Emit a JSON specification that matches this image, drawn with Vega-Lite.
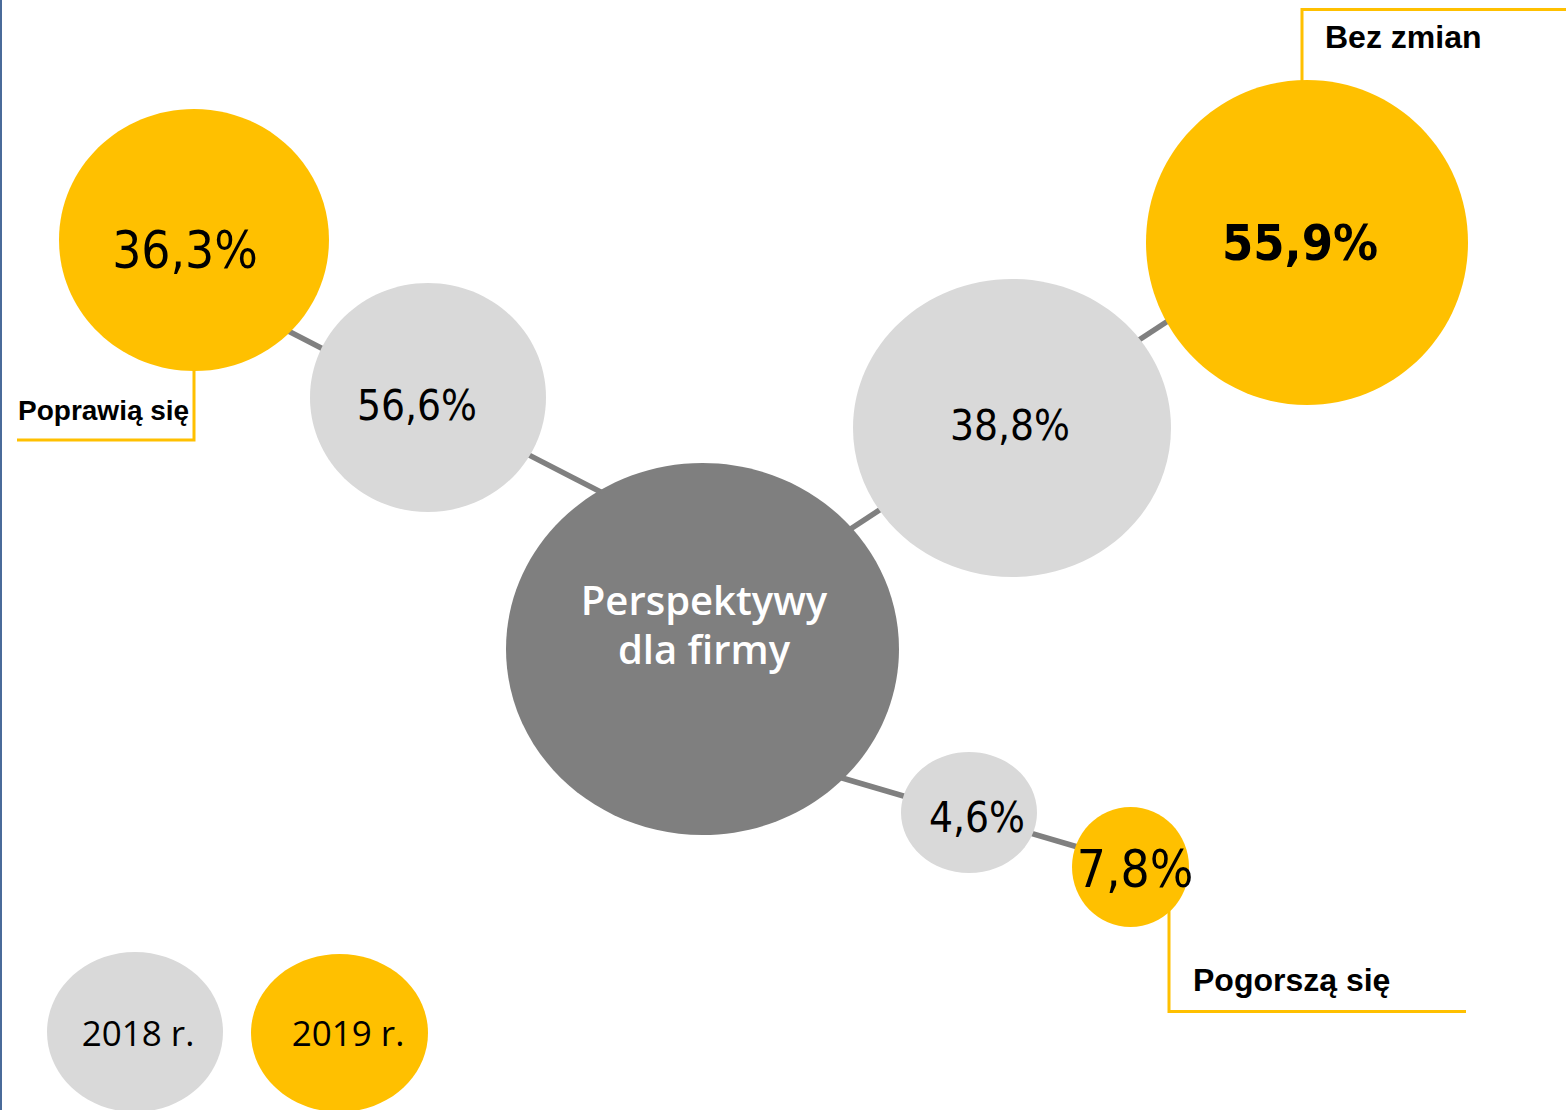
{
  "$schema": "https://vega.github.io/schema/vega-lite/v6.json",
  "width": 1566,
  "height": 1110,
  "padding": 0,
  "autosize": {"type": "none"},
  "background": "#ffffff",
  "config": {"view": {"stroke": null}},
  "datasets": {
    "bubbles": [
      {"id": "up2019", "year": "2019", "x": 194, "y": 240},
      {"id": "up2018", "year": "2018", "x": 428, "y": 397.5},
      {"id": "center", "year": "center", "x": 702.5, "y": 649},
      {"id": "same2018", "year": "2018", "x": 1012, "y": 428},
      {"id": "same2019", "year": "2019", "x": 1307, "y": 242.5},
      {"id": "down2018", "year": "2018", "x": 969, "y": 812.5},
      {"id": "down2019", "year": "2019", "x": 1130.5, "y": 867},
      {"id": "key2018", "year": "2018", "x": 135, "y": 1032},
      {"id": "key2019", "year": "2019", "x": 339.5, "y": 1033}
    ],
    "links": [
      {"link": "up", "seq": 1, "x": 250, "y": 311.4},
      {"link": "up", "seq": 2, "x": 640, "y": 512.2},
      {"link": "same", "seq": 1, "x": 820, "y": 549},
      {"link": "same", "seq": 2, "x": 1200, "y": 300},
      {"link": "down", "seq": 1, "x": 820, "y": 771.5},
      {"link": "down", "seq": 2, "x": 1110, "y": 856.5}
    ],
    "callouts": [
      {"c": "same", "seq": 1, "x": 1302, "y": 100},
      {"c": "same", "seq": 2, "x": 1302, "y": 9.5},
      {"c": "same", "seq": 3, "x": 1566, "y": 9.5},
      {"c": "up", "seq": 1, "x": 194, "y": 350},
      {"c": "up", "seq": 2, "x": 194, "y": 440},
      {"c": "up", "seq": 3, "x": 17, "y": 440},
      {"c": "down", "seq": 1, "x": 1169, "y": 890},
      {"c": "down", "seq": 2, "x": 1169, "y": 1011.5},
      {"c": "down", "seq": 3, "x": 1466, "y": 1011.5}
    ],
    "labels": [
      {"id": "up2019", "text": "36,3%", "x": 185, "y": 268},
      {"id": "up2018", "text": "56,6%", "x": 417, "y": 420},
      {"id": "same2018", "text": "38,8%", "x": 1010, "y": 440},
      {"id": "same2019", "text": "55,9%", "x": 1300, "y": 260},
      {"id": "down2018", "text": "4,6%", "x": 977, "y": 832},
      {"id": "down2019", "text": "7,8%", "x": 1135, "y": 887},
      {"id": "center", "text": "Perspektywy\ndla firmy", "x": 704, "y": 615},
      {"id": "key2018", "text": "2018 r.", "x": 138, "y": 1046},
      {"id": "key2019", "text": "2019 r.", "x": 348, "y": 1046},
      {"id": "callSame", "text": "Bez zmian", "x": 1325, "y": 48},
      {"id": "callDown", "text": "Pogorszą się", "x": 1193, "y": 991},
      {"id": "callUp", "text": "Poprawią się", "x": 18, "y": 420}
    ],
    "edge": [{"x": 1, "y": 0, "y2": 1110}]
  },
  "layer": [
    {
      "data": {"name": "links"},
      "mark": {"type": "line", "color": "#808080", "strokeWidth": 5.5, "strokeCap": "butt"},
      "encoding": {
        "x": {"field": "x", "type": "quantitative", "scale": {"domain": [0, 1566], "nice": false, "zero": false}, "axis": null},
        "y": {"field": "y", "type": "quantitative", "scale": {"domain": [0, 1110], "nice": false, "zero": false, "reverse": true}, "axis": null},
        "detail": {"field": "link"},
        "order": {"field": "seq", "type": "quantitative"}
      }
    },
    {
      "data": {"name": "callouts"},
      "mark": {"type": "line", "color": "#FFC000", "strokeWidth": 3, "strokeCap": "butt", "strokeJoin": "miter"},
      "encoding": {
        "x": {"field": "x", "type": "quantitative"},
        "y": {"field": "y", "type": "quantitative"},
        "detail": {"field": "c"},
        "order": {"field": "seq", "type": "quantitative"}
      }
    },
    {
      "data": {"name": "bubbles"},
      "mark": {"type": "point", "filled": true, "opacity": 1, "strokeWidth": 0},
      "encoding": {
        "x": {"field": "x", "type": "quantitative"},
        "y": {"field": "y", "type": "quantitative"},
        "size": {"value": 4},
        "color": {
          "field": "year", "type": "nominal", "legend": null,
          "scale": {"domain": ["2018", "2019", "center"], "range": ["#D9D9D9", "#FFC000", "#7F7F7F"]}
        },
        "shape": {
          "field": "id", "type": "nominal", "legend": null,
          "scale": {
            "domain": ["up2019", "up2018", "center", "same2018", "same2019", "down2018", "down2019", "key2018", "key2019"],
            "range": [
              "M-135,0A135,131,0,1,1,135,0A135,131,0,1,1,-135,0Z",
              "M-118,0A118,114.5,0,1,1,118,0A118,114.5,0,1,1,-118,0Z",
              "M-196.5,0A196.5,186,0,1,1,196.5,0A196.5,186,0,1,1,-196.5,0Z",
              "M-159,0A159,149,0,1,1,159,0A159,149,0,1,1,-159,0Z",
              "M-161,0A161,162.5,0,1,1,161,0A161,162.5,0,1,1,-161,0Z",
              "M-68,0A68,60.5,0,1,1,68,0A68,60.5,0,1,1,-68,0Z",
              "M-58.5,0A58.5,60,0,1,1,58.5,0A58.5,60,0,1,1,-58.5,0Z",
              "M-88,0A88,80,0,1,1,88,0A88,80,0,1,1,-88,0Z",
              "M-88.5,0A88.5,79,0,1,1,88.5,0A88.5,79,0,1,1,-88.5,0Z"
            ]
          }
        }
      }
    },
    {
      "data": {"name": "labels"},
      "transform": [{"filter": {"field": "id", "oneOf": ["up2019", "down2019"]}}],
      "mark": {"type": "text", "align": "center", "baseline": "alphabetic", "font": "DejaVu Sans Condensed, DejaVu Sans", "fontSize": 51, "color": "#000000"},
      "encoding": {
        "x": {"field": "x", "type": "quantitative"},
        "y": {"field": "y", "type": "quantitative"},
        "text": {"field": "text"}
      }
    },
    {
      "data": {"name": "labels"},
      "transform": [{"filter": {"field": "id", "oneOf": ["up2018", "same2018", "down2018"]}}],
      "mark": {"type": "text", "align": "center", "baseline": "alphabetic", "font": "DejaVu Sans Condensed, DejaVu Sans", "fontSize": 42, "color": "#000000"},
      "encoding": {
        "x": {"field": "x", "type": "quantitative"},
        "y": {"field": "y", "type": "quantitative"},
        "text": {"field": "text"}
      }
    },
    {
      "data": {"name": "labels"},
      "transform": [{"filter": {"field": "id", "equal": "same2019"}}],
      "mark": {"type": "text", "align": "center", "baseline": "alphabetic", "font": "DejaVu Sans Condensed, DejaVu Sans", "fontWeight": "bold", "fontSize": 50, "color": "#000000"},
      "encoding": {
        "x": {"field": "x", "type": "quantitative"},
        "y": {"field": "y", "type": "quantitative"},
        "text": {"field": "text"}
      }
    },
    {
      "data": {"name": "labels"},
      "transform": [{"filter": {"field": "id", "equal": "center"}}],
      "mark": {"type": "text", "align": "center", "baseline": "alphabetic", "lineBreak": "\n", "lineHeight": 49, "font": "Open Sans", "fontWeight": 600, "fontSize": 40, "color": "#ffffff"},
      "encoding": {
        "x": {"field": "x", "type": "quantitative"},
        "y": {"field": "y", "type": "quantitative"},
        "text": {"field": "text"}
      }
    },
    {
      "data": {"name": "labels"},
      "transform": [{"filter": {"field": "id", "oneOf": ["key2018", "key2019"]}}],
      "mark": {"type": "text", "align": "center", "baseline": "alphabetic", "font": "Open Sans", "fontSize": 35, "color": "#000000"},
      "encoding": {
        "x": {"field": "x", "type": "quantitative"},
        "y": {"field": "y", "type": "quantitative"},
        "text": {"field": "text"}
      }
    },
    {
      "data": {"name": "labels"},
      "transform": [{"filter": {"field": "id", "oneOf": ["callSame", "callDown"]}}],
      "mark": {"type": "text", "align": "left", "baseline": "alphabetic", "font": "Liberation Sans", "fontWeight": "bold", "fontSize": 32, "color": "#000000"},
      "encoding": {
        "x": {"field": "x", "type": "quantitative"},
        "y": {"field": "y", "type": "quantitative"},
        "text": {"field": "text"}
      }
    },
    {
      "data": {"name": "labels"},
      "transform": [{"filter": {"field": "id", "equal": "callUp"}}],
      "mark": {"type": "text", "align": "left", "baseline": "alphabetic", "font": "Liberation Sans", "fontWeight": "bold", "fontSize": 28, "color": "#000000"},
      "encoding": {
        "x": {"field": "x", "type": "quantitative"},
        "y": {"field": "y", "type": "quantitative"},
        "text": {"field": "text"}
      }
    },
    {
      "data": {"name": "edge"},
      "mark": {"type": "rule", "color": "#4a6b9a", "strokeWidth": 2},
      "encoding": {
        "x": {"field": "x", "type": "quantitative"},
        "y": {"field": "y", "type": "quantitative"},
        "y2": {"field": "y2"}
      }
    }
  ]
}
